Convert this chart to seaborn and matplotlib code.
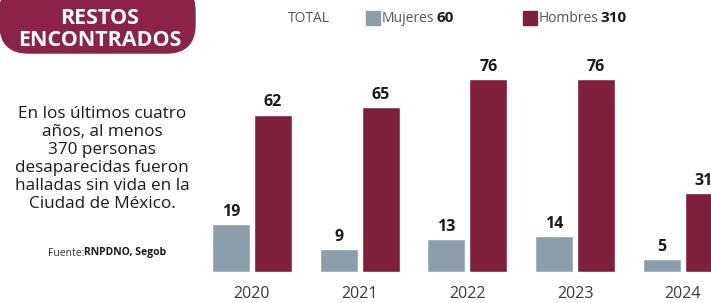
import matplotlib
matplotlib.use("Agg")
import matplotlib.pyplot as plt
import seaborn as sns
import pandas as pd
from matplotlib.patches import FancyBboxPatch, Rectangle

# data
years = ["2020", "2021", "2022", "2023", "2024"]
mujeres = [19, 9, 13, 14, 5]
hombres = [62, 65, 76, 76, 31]
series = ["Mujeres", "Hombres"]
totals = [60, 310]

C_MUJ = "#8c9eaa"
C_HOM = "#7e1f3c"
C_HEAD = "#8a2347"

sns.set_theme(style="white")
plt.rcParams["font.family"] = ["Open Sans", "DejaVu Sans"]

df = pd.DataFrame({
    "year": years * 2,
    "value": mujeres + hombres,
    "serie": [series[0]] * len(years) + [series[1]] * len(years),
})

fig = plt.figure(figsize=(7.11, 3.03), dpi=100)
W, H = 711, 303

# bar area: baseline at y=272px, group centres ~107.7px apart
# (the last group is cut by the right edge, as in the original)
ax = fig.add_axes([198 / W, 31 / H, 513 / W, 227 / H])
sns.barplot(data=df, x="year", y="value", hue="serie", order=years,
            hue_order=series, palette=[C_MUJ, C_HOM], width=0.78, gap=0.1,
            saturation=1, legend=False, ax=ax)
ax.set_xlim(-0.501, 4.262)
ax.set_ylim(0, 89.4)
ax.set_xlabel("")
ax.set_ylabel("")
ax.set_yticks([])
sns.despine(ax=ax, left=True, bottom=True)
ax.tick_params(axis="x", length=0, pad=10, labelsize=11.5, labelcolor="#3a3a3a")
for cont in ax.containers:
    ax.bar_label(cont, padding=3, fontsize=11.5, fontweight="bold", color="#1a1a1a")

# header box
fig.patches.append(FancyBboxPatch((0 / W, 1 - 53 / H), 195 / W, 70 / H,
                                  boxstyle="round,pad=0,rounding_size=0.04",
                                  transform=fig.transFigure, color=C_HEAD,
                                  mutation_aspect=W / H))
fig.text(100 / W, 1 - 19 / H, "RESTOS", color="white", fontsize=15.5,
         fontweight="bold", ha="center", va="center")
fig.text(100 / W, 1 - 41 / H, "ENCONTRADOS", color="white", fontsize=15.5,
         fontweight="bold", ha="center", va="center")

# side text
fig.text(102 / W, 1 - 159 / H,
         "En los últimos cuatro\naños, al menos\n370 personas\n"
         "desaparecidas fueron\nhalladas sin vida en la\nCiudad de México.",
         fontsize=12.3, ha="center", va="center", linespacing=1.17,
         color="#1a1a1a")
fig.text(84 / W, 1 - 253 / H, "Fuente:", fontsize=7.5, ha="right",
         va="center", color="#333333")
fig.text(84 / W, 1 - 253 / H, "RNPDNO, Segob", fontsize=7.5, ha="left",
         va="center", fontweight="bold", color="#1a1a1a")

# legend row
fig.text(288 / W, 1 - 18 / H, "TOTAL", fontsize=10, color="#555555",
         va="center")
for x0, name, tot, col in [(366, series[0], totals[0], C_MUJ),
                           (523, series[1], totals[1], C_HOM)]:
    fig.patches.append(Rectangle((x0 / W, 1 - 25 / H), 14 / W, 14 / H,
                                 transform=fig.transFigure, color=col))
    t = fig.text((x0 + 16) / W, 1 - 18 / H, name, fontsize=10,
                 color="#555555", va="center")
    fig.canvas.draw()
    bb = t.get_window_extent()
    fig.text(bb.x1 / W + 2 / W, 1 - 18 / H, str(tot), fontsize=11,
             fontweight="bold", color="#1a1a1a", va="center")

fig.savefig("out.png", dpi=100)
